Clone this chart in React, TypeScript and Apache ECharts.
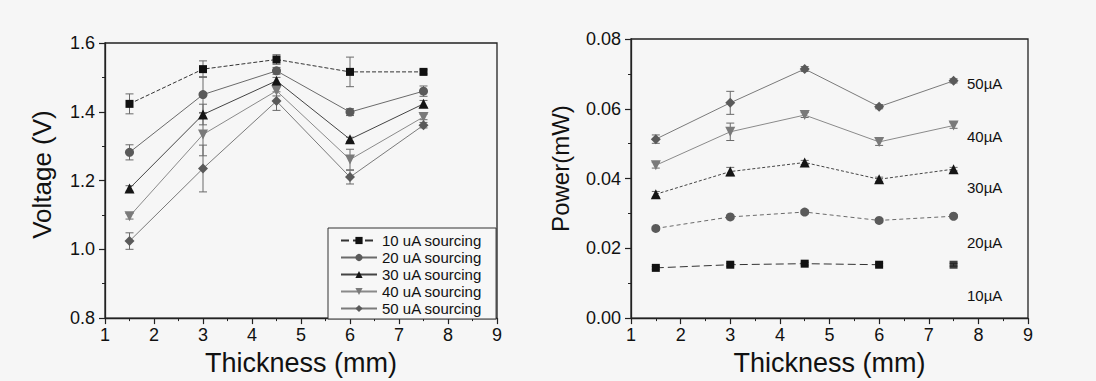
import React, { useEffect, useRef } from "react";
import * as echarts from "echarts";

const thickness = [1.5, 3, 4.5, 6, 7.5];

const voltage10 = [1.423, 1.524, 1.552, 1.516, 1.516];
const voltage20 = [1.282, 1.45, 1.519, 1.399, 1.46];
const voltage30 = [1.177, 1.392, 1.49, 1.32, 1.423];
const voltage40 = [1.096, 1.334, 1.461, 1.261, 1.385];
const voltage50 = [1.024, 1.235, 1.431, 1.21, 1.361];

const voltErr10 = [0.029, 0.024, 0.014, 0.043, 0.006];
const voltErr20 = [0.022, 0.052, 0.01, 0.01, 0.015];
const voltErr30 = [0.008, 0.03, 0.01, 0.006, 0.01];
const voltErr40 = [0.008, 0.062, 0.015, 0.03, 0.008];
const voltErr50 = [0.024, 0.068, 0.027, 0.02, 0.008];

const power10 = [0.0144, 0.0153, 0.0156, 0.0153, 0.0153];
const power20 = [0.0257, 0.029, 0.0304, 0.028, 0.0292];
const power30 = [0.0355, 0.042, 0.0446, 0.0398, 0.0427];
const power40 = [0.0438, 0.0534, 0.0582, 0.0505, 0.0552];
const power50 = [0.0513, 0.0617, 0.0714, 0.0606, 0.068];

const powErr10 = [0.0004, 0.0004, 0.0004, 0.0004, 0.0004];
const powErr20 = [0.0005, 0.0005, 0.0005, 0.0005, 0.0005];
const powErr30 = [0.0008, 0.0012, 0.0006, 0.0006, 0.0005];
const powErr40 = [0.0008, 0.0025, 0.0007, 0.001, 0.0008];
const powErr50 = [0.0012, 0.0033, 0.0007, 0.0006, 0.0006];

const legendNames = ["10 uA sourcing", "20 uA sourcing", "30 uA sourcing", "40 uA sourcing", "50 uA sourcing"];
const powerLabels = ["50µA", "40µA", "30µA", "20µA", "10µA"];

const xTicks = [1, 2, 3, 4, 5, 6, 7, 8, 9];

const FONT = "'Liberation Sans', Arial, Helvetica, sans-serif";
const DOWN_TRI = "path://M0,0 L10,0 L5,9 Z";

const styles = [
  { symbol: "rect", size: 8, sym: "#111111", line: "#333333", type: "dashed" },
  { symbol: "circle", size: 9, sym: "#5a5a5a", line: "#6a6a6a", type: "solid" },
  { symbol: "triangle", size: 10, sym: "#151515", line: "#444444", type: "solid" },
  { symbol: DOWN_TRI, size: 10, sym: "#7a7a7a", line: "#8a8a8a", type: "solid" },
  { symbol: "diamond", size: 10, sym: "#5a5a5a", line: "#7a7a7a", type: "solid" },
];

const powerStyles = [
  { type: [8, 4] },
  { type: [4, 3] },
  { type: [3, 2] },
  { type: "solid" },
  { type: "solid" },
];

function errorSeries(name: string, vals: number[], errs: number[], color: string, axis: number) {
  return {
    type: "custom",
    name,
    xAxisIndex: axis,
    yAxisIndex: axis,
    z: 1,
    silent: true,
    encode: { x: 0, y: 1 },
    data: thickness.map((x, i) => [x, vals[i], errs[i]]),
    renderItem: (params: any, api: any) => {
      const x = api.value(0);
      const y = api.value(1);
      const e = api.value(2);
      const lo = api.coord([x, y - e]);
      const hi = api.coord([x, y + e]);
      const w = 4;
      const st = { stroke: color, lineWidth: 1 };
      return {
        type: "group",
        children: [
          { type: "line", shape: { x1: lo[0], y1: lo[1], x2: hi[0], y2: hi[1] }, style: st },
          { type: "line", shape: { x1: lo[0] - w, y1: lo[1], x2: lo[0] + w, y2: lo[1] }, style: st },
          { type: "line", shape: { x1: hi[0] - w, y1: hi[1], x2: hi[0] + w, y2: hi[1] }, style: st },
        ],
      };
    },
  };
}

function axisCommon() {
  return {
    axisLine: { show: true, onZero: false, lineStyle: { color: "#222", width: 1.3 } },
    axisTick: { show: true, inside: false, length: 6, lineStyle: { color: "#222", width: 1.2 } },
    minorTick: { show: true, splitNumber: 2, length: 3, lineStyle: { color: "#222", width: 1 } },
    splitLine: { show: false },
  };
}

export default function App() {
  const ref = useRef<HTMLDivElement>(null);

  useEffect(() => {
    if (!ref.current) return;
    const chart = echarts.init(ref.current, undefined, { renderer: "svg" });

    const voltVals = [voltage10, voltage20, voltage30, voltage40, voltage50];
    const voltErrs = [voltErr10, voltErr20, voltErr30, voltErr40, voltErr50];
    const powVals = [power10, power20, power30, power40, power50];
    const powErrs = [powErr10, powErr20, powErr30, powErr40, powErr50];

    const series: any[] = [];
    voltVals.forEach((vals, k) => {
      series.push(errorSeries("ve" + k, vals, voltErrs[k], "#6a6a6a", 0));
    });
    voltVals.forEach((vals, k) => {
      const s = styles[k];
      series.push({
        type: "line",
        name: legendNames[k],
        xAxisIndex: 0,
        yAxisIndex: 0,
        z: 3,
        data: thickness.map((x, i) => [x, vals[i]]),
        symbol: s.symbol,
        symbolSize: s.size,
        showSymbol: true,
        itemStyle: { color: s.sym },
        lineStyle: { color: s.line, width: 1, type: s.type },
      });
    });
    powVals.forEach((vals, k) => {
      series.push(errorSeries("pe" + k, vals, powErrs[k], "#6a6a6a", 1));
    });
    powVals.forEach((vals, k) => {
      const s = styles[k];
      const isTen = k === 0;
      const lineData = thickness.map((x, i) => [x, vals[i]]);
      series.push({
        type: "line",
        name: "p" + k,
        xAxisIndex: 1,
        yAxisIndex: 1,
        z: 3,
        data: isTen ? lineData.slice(0, 4) : lineData,
        symbol: s.symbol,
        symbolSize: s.size,
        showSymbol: true,
        itemStyle: { color: s.sym },
        lineStyle: { color: s.line, width: 1, type: powerStyles[k].type },
      });
      if (isTen) {
        series.push({
          type: "scatter",
          name: "p0b",
          xAxisIndex: 1,
          yAxisIndex: 1,
          z: 3,
          data: lineData.slice(4),
          symbol: s.symbol,
          symbolSize: s.size,
          itemStyle: { color: s.sym },
        });
      }
    });

    const labelYs = [84, 137, 188, 243, 296];
    const xLabel = { color: "#111", fontSize: 18, fontFamily: FONT, margin: 8, formatter: (v: number) => (xTicks.includes(v) ? String(v) : "") };

    chart.setOption({
      animation: false,
      backgroundColor: "#f6f6f6",
      textStyle: { fontFamily: FONT },
      grid: [
        { left: 105, top: 43, width: 392, height: 279, show: true, borderColor: "#222", borderWidth: 1.3, backgroundColor: "transparent" },
        { left: 631, top: 39, width: 397, height: 281, show: true, borderColor: "#222", borderWidth: 1.3, backgroundColor: "transparent" },
      ],
      xAxis: [
        {
          ...axisCommon(),
          type: "value",
          gridIndex: 0,
          min: 1,
          max: 9,
          interval: 1,
          name: "Thickness (mm)",
          nameLocation: "middle",
          nameGap: 22,
          nameTextStyle: { color: "#111", fontSize: 27, fontFamily: FONT },
          axisLabel: xLabel,
        },
        {
          ...axisCommon(),
          type: "value",
          gridIndex: 1,
          min: 1,
          max: 9,
          interval: 1,
          name: "Thickness (mm)",
          nameLocation: "middle",
          nameGap: 23,
          nameTextStyle: { color: "#111", fontSize: 27, fontFamily: FONT },
          axisLabel: xLabel,
        },
      ],
      yAxis: [
        {
          ...axisCommon(),
          type: "value",
          gridIndex: 0,
          min: 0.8,
          max: 1.6,
          interval: 0.2,
          name: "Voltage (V)",
          nameLocation: "middle",
          nameGap: 50,
          nameTextStyle: { color: "#111", fontSize: 26, fontFamily: FONT, padding: [0, 0, 0, 12] },
          axisLabel: { color: "#111", fontSize: 18, fontFamily: FONT, margin: 10, formatter: (v: number) => v.toFixed(1) },
        },
        {
          ...axisCommon(),
          type: "value",
          gridIndex: 1,
          min: 0,
          max: 0.08,
          interval: 0.02,
          name: "Power(mW)",
          nameLocation: "middle",
          nameGap: 59,
          nameTextStyle: { color: "#111", fontSize: 24, fontFamily: FONT, padding: [0, 0, 0, 20] },
          axisLabel: { color: "#111", fontSize: 18, fontFamily: FONT, margin: 10, formatter: (v: number) => v.toFixed(2) },
        },
      ],
      legend: {
        data: legendNames,
        orient: "vertical",
        left: 328,
        top: 228,
        itemWidth: 36,
        itemHeight: 9,
        itemGap: 2,
        padding: [5, 14, 3, 12],
        backgroundColor: "#f7f7f7",
        borderColor: "#333",
        borderWidth: 1,
        borderRadius: 0,
        textStyle: { fontSize: 15, lineHeight: 15, color: "#111", fontFamily: FONT },
      },
      graphic: powerLabels.map((t, i) => ({
        type: "text",
        left: 967,
        top: labelYs[i] - 8,
        style: { text: t, fontSize: 15, fontFamily: FONT, fill: "#111" },
        z: 10,
      })),
      series,
    });

    return () => chart.dispose();
  }, []);

  return (
    <div
      ref={ref}
      style={{ position: "absolute", left: 0, top: 0, width: 1096, height: 381 }}
    />
  );
}
